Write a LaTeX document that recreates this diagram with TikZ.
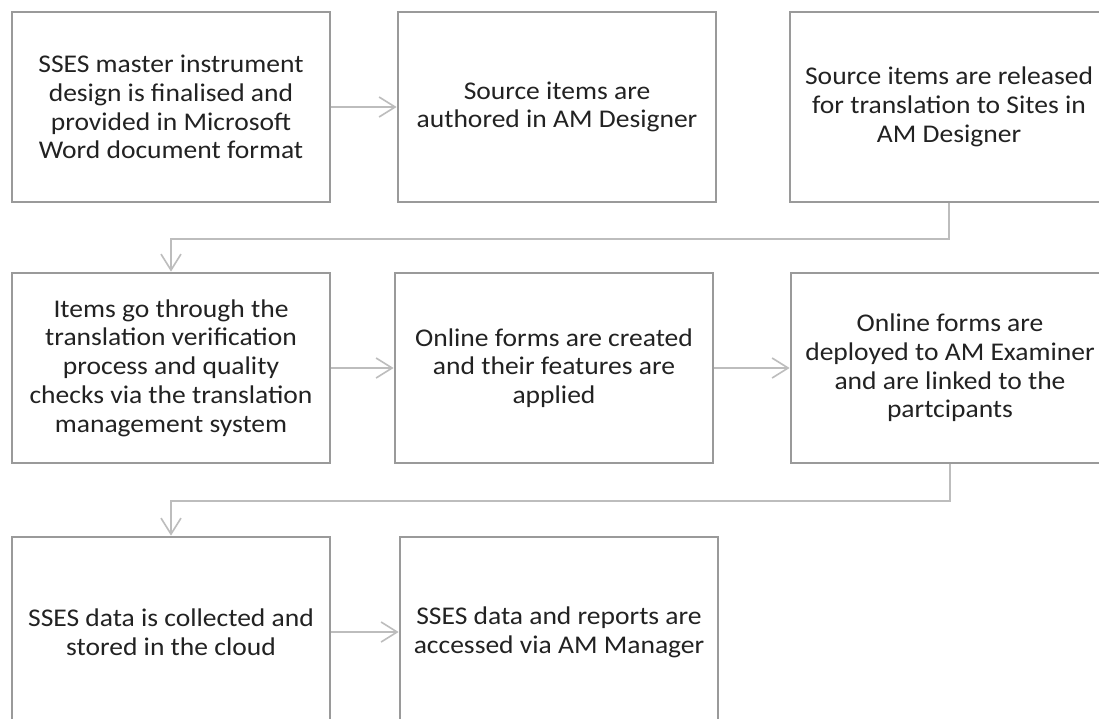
\documentclass[tikz,border=0pt]{standalone}
\usepackage{fontspec}
\setmainfont{Carlito}[FakeStretch=1.08]
\usetikzlibrary{arrows.meta}
\definecolor{boxline}{HTML}{9A9A9A}
\definecolor{connline}{HTML}{BDBDBD}
\definecolor{txt}{HTML}{222222}
\begin{document}
\begin{tikzpicture}[x=1pt,y=-1pt,
  stepbox/.style={draw=boxline, line width=2.8pt, fill=white, minimum width=318pt, minimum height=190pt, inner sep=0pt, align=center, text=txt, font=\fontsize{25.5}{28.7}\selectfont},
  conn/.style={draw=connline, line width=1.6pt, -{Straight Barb[length=16pt,width=20pt,line width=1.6pt]}}]
\useasboundingbox (0,0) rectangle (1099,718);
\clip (0,0) rectangle (1099,718);
\fill[white] (0,0) rectangle (1099,718);
% row 1
\node[stepbox] (b1) at (171,107) {SSES master instrument\\design is finalised and\\provided in Microsoft\\Word document format};
\node[stepbox] (b2) at (557,107) {Source items are\\authored in AM Designer};
\node[stepbox] (b3) at (949,107) {Source items are released\\for translation to Sites in\\AM Designer};
% row 2
\node[stepbox] (b4) at (171,368) {Items go through the\\translation verification\\process and quality\\checks via the translation\\management system};
\node[stepbox] (b5) at (554,368) {Online forms are created\\and their features are\\applied};
\node[stepbox] (b6) at (950,368) {Online forms are\\deployed to AM Examiner\\and are linked to the\\partcipants};
% row 3
\node[stepbox] (b7) at (171,632) {SSES data is collected and\\stored in the cloud};
\node[stepbox] (b8) at (559,632) {SSES data and reports are\\accessed via AM Manager};
% junctions
\coordinate (j1) at (560,239);
\coordinate (j2) at (560,501);
% connectors
\draw[conn] (b1.east) -- (b2.west);
\draw[conn] (b3.south) -- (b3.south |- j1) -- (b4.north |- j1) -- (b4.north);
\draw[conn] (b4.east) -- (b5.west);
\draw[conn] (b5.east) -- (b6.west);
\draw[conn] (b6.south) -- (b6.south |- j2) -- (b7.north |- j2) -- (b7.north);
\draw[conn] (b7.east) -- (b8.west);
\end{tikzpicture}
\end{document}
